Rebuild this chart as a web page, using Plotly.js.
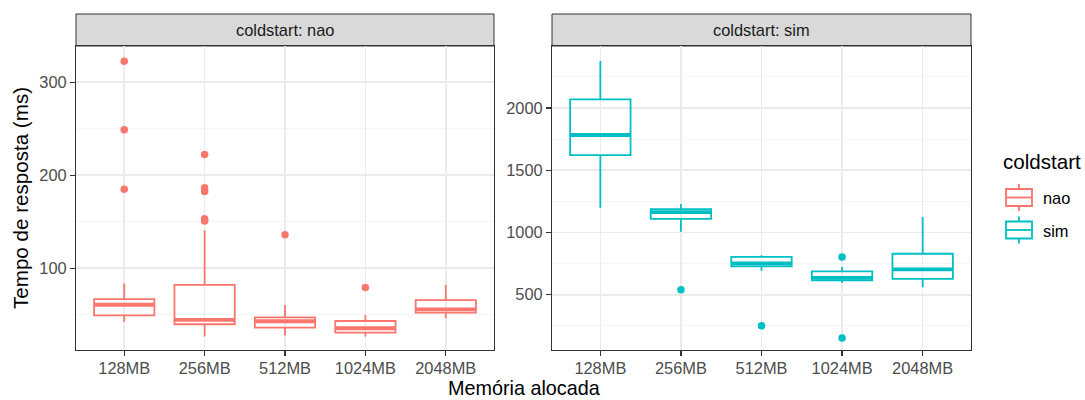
<!DOCTYPE html>
<html>
<head>
<meta charset="utf-8">
<script src="https://cdn.plot.ly/plotly-3.0.1.min.js"></script>
<style>html,body{margin:0;padding:0;background:#fff;}#chart{width:1085px;height:400px;}</style>
</head>
<body>
<div id="chart"></div>
<script>
// ---- data ----
const categories = ["128MB", "256MB", "512MB", "1024MB", "2048MB"];

// coldstart: nao
const naoLowerFence = [42.4, 26.4, 27.5, 26.4, 46.1];
const naoQ1         = [49.3, 39.7, 36.0, 30.7, 52.1];
const naoMedian     = [60.7, 44.3, 42.9, 35.4, 55.7];
const naoQ3         = [66.8, 82.1, 47.2, 43.2, 65.7];
const naoUpperFence = [83.6, 140.7, 60.3, 49.6, 81.8];
const naoOutlierCat = ["128MB", "128MB", "128MB", "256MB", "256MB", "256MB", "256MB", "256MB", "512MB", "1024MB"];
const naoOutlierVal = [322.6, 249.0, 185.0, 222.2, 186.5, 182.5, 153.3, 150.7, 136.0, 79.3];

// coldstart: sim
const simLowerFence = [1198, 1005, 692, 596, 561];
const simQ1         = [1622, 1110, 727, 615, 628];
const simMedian     = [1783, 1164, 751, 636, 703];
const simQ3         = [2070, 1188, 804, 687, 829];
const simUpperFence = [2378, 1228, 818, 723, 1124];
const simOutlierCat = ["256MB", "512MB", "1024MB", "1024MB"];
const simOutlierVal = [539, 250, 804, 153];

// ---- style ----
const colNao = "#F8766D";
const colSim = "#00BFC4";
const boxW = 0.75;
const font = "Liberation Sans, Arial, sans-serif";
const smallSize = 16.4;
const bigSize = 20.6;

const idx = c => categories.indexOf(c);
const pos = categories.map((c, i) => i);

function boxTrace(q1, med, q3, lo, hi, color, xa, ya) {
  return {
    type: "box", x: pos, q1: q1, median: med, q3: q3,
    lowerfence: lo, upperfence: hi, width: boxW,
    boxpoints: false, whiskerwidth: 0,
    fillcolor: "rgba(255,255,255,0)",
    line: {color: color, width: 1.8},
    xaxis: xa, yaxis: ya, showlegend: false, hoverinfo: "skip"
  };
}
function medianTrace(med, color, xa, ya) {
  const xs = [], ys = [];
  med.forEach((m, i) => { xs.push(i - boxW / 2, i + boxW / 2, null); ys.push(m, m, null); });
  return {type: "scatter", mode: "lines", x: xs, y: ys,
    line: {color: color, width: 3.8}, xaxis: xa, yaxis: ya, showlegend: false, hoverinfo: "skip"};
}
function outlierTrace(cats, vals, color, xa, ya) {
  return {type: "scatter", mode: "markers", x: cats.map(idx), y: vals,
    marker: {color: color, size: 7.5}, xaxis: xa, yaxis: ya, showlegend: false, hoverinfo: "skip"};
}

const data = [
  boxTrace(naoQ1, naoMedian, naoQ3, naoLowerFence, naoUpperFence, colNao, "x", "y"),
  medianTrace(naoMedian, colNao, "x", "y"),
  outlierTrace(naoOutlierCat, naoOutlierVal, colNao, "x", "y"),
  boxTrace(simQ1, simMedian, simQ3, simLowerFence, simUpperFence, colSim, "x2", "y2"),
  medianTrace(simMedian, colSim, "x2", "y2"),
  outlierTrace(simOutlierCat, simOutlierVal, colSim, "x2", "y2")
];

const gridMajor = "#EBEBEB";
const xCommon = {
  range: [-0.6, 4.6], tickmode: "array", tickvals: pos, ticktext: categories,
  showgrid: true, gridcolor: gridMajor, gridwidth: 1.6, zeroline: false,
  showline: true, mirror: true, linecolor: "#333333", linewidth: 1,
  ticks: "outside", ticklen: 5, tickwidth: 1.2, tickcolor: "#333333", ticklabelstandoff: -2,
  tickfont: {family: font, size: smallSize, color: "#4D4D4D"}, fixedrange: true
};
const yCommon = {
  showgrid: true, gridcolor: gridMajor, gridwidth: 1.6, zeroline: false,
  showline: true, mirror: true, linecolor: "#333333", linewidth: 1,
  ticks: "outside", ticklen: 5, tickwidth: 1.2, tickcolor: "#333333",
  tickfont: {family: font, size: smallSize, color: "#4D4D4D"}, fixedrange: true
};

const d1 = [0, 418 / 895];
const d2 = [476 / 895, 1];
const stripTop = 1 + 32 / 304;

const shapes = [
  {type: "rect", xref: "paper", yref: "paper", x0: d1[0], x1: d1[1], y0: 1, y1: stripTop,
   fillcolor: "#D9D9D9", line: {color: "#333333", width: 1}, layer: "below"},
  {type: "rect", xref: "paper", yref: "paper", x0: d2[0], x1: d2[1], y0: 1, y1: stripTop,
   fillcolor: "#D9D9D9", line: {color: "#333333", width: 1}, layer: "below"}
];

// legend keys (ggplot-style boxplot glyphs)
const keyX0 = (1006 - 76) / 895, keyX1 = (1032 - 76) / 895, keyXc = (1019 - 76) / 895;
const py = v => (350 - v) / 304;
[[colNao, 197.5], [colSim, 230]].forEach(([c, yc]) => {
  shapes.push({type: "line", xref: "paper", yref: "paper", x0: keyXc, x1: keyXc, y0: py(yc - 13.5), y1: py(yc - 8.5), line: {color: c, width: 1.8}});
  shapes.push({type: "line", xref: "paper", yref: "paper", x0: keyXc, x1: keyXc, y0: py(yc + 8.5), y1: py(yc + 13.5), line: {color: c, width: 1.8}});
  shapes.push({type: "rect", xref: "paper", yref: "paper", x0: keyX0, x1: keyX1, y0: py(yc + 8.5), y1: py(yc - 8.5), line: {color: c, width: 1.8}, fillcolor: "rgba(0,0,0,0)"});
  shapes.push({type: "line", xref: "paper", yref: "paper", x0: keyX0, x1: keyX1, y0: py(yc), y1: py(yc), line: {color: c, width: 1.8}});
});

const annotations = [
  {text: "coldstart: nao", xref: "paper", yref: "paper", x: (d1[0] + d1[1]) / 2, y: (1 + stripTop) / 2,
   showarrow: false, xanchor: "center", yanchor: "middle", font: {family: font, size: smallSize, color: "#1A1A1A"}},
  {text: "coldstart: sim", xref: "paper", yref: "paper", x: (d2[0] + d2[1]) / 2, y: (1 + stripTop) / 2,
   showarrow: false, xanchor: "center", yanchor: "middle", font: {family: font, size: smallSize, color: "#1A1A1A"}},
  {text: "Memória alocada", xref: "paper", yref: "paper", x: 0.5, y: py(399.5), borderpad: 0,
   showarrow: false, xanchor: "center", yanchor: "bottom", font: {family: font, size: 19.8, color: "#000000"}},
  {text: "Tempo de resposta (ms)", xref: "paper", yref: "paper", x: (20 - 76) / 895, y: 0.5, textangle: -90,
   showarrow: false, xanchor: "center", yanchor: "middle", font: {family: font, size: bigSize, color: "#000000"}},
  {text: "coldstart", xref: "paper", yref: "paper", x: (1001 - 76) / 895, y: py(161),
   showarrow: false, xanchor: "left", yanchor: "middle", font: {family: font, size: bigSize, color: "#000000"}},
  {text: "nao", xref: "paper", yref: "paper", x: (1041 - 76) / 895, y: py(198),
   showarrow: false, xanchor: "left", yanchor: "middle", font: {family: font, size: smallSize, color: "#000000"}},
  {text: "sim", xref: "paper", yref: "paper", x: (1041 - 76) / 895, y: py(231),
   showarrow: false, xanchor: "left", yanchor: "middle", font: {family: font, size: smallSize, color: "#000000"}}
];

const layout = {
  width: 1085, height: 400,
  margin: {l: 76, r: 114, t: 46, b: 50, pad: 0},
  paper_bgcolor: "#FFFFFF", plot_bgcolor: "#FFFFFF",
  showlegend: false,
  xaxis: Object.assign({}, xCommon, {domain: d1, anchor: "y"}),
  xaxis2: Object.assign({}, xCommon, {domain: d2, anchor: "y2"}),
  yaxis: Object.assign({}, yCommon, {anchor: "x", range: [12, 339], tick0: 0, dtick: 100,
    minor: {tick0: 0, dtick: 50, showgrid: true, gridcolor: "#F2F2F2", gridwidth: 0.8, ticks: ""}}),
  yaxis2: Object.assign({}, yCommon, {anchor: "x2", range: [56, 2498], tick0: 0, dtick: 500,
    minor: {tick0: 0, dtick: 250, showgrid: true, gridcolor: "#F2F2F2", gridwidth: 0.8, ticks: ""}}),
  shapes: shapes,
  annotations: annotations
};

Plotly.newPlot("chart", data, layout, {staticPlot: true, displayModeBar: false});
</script>
</body>
</html>
